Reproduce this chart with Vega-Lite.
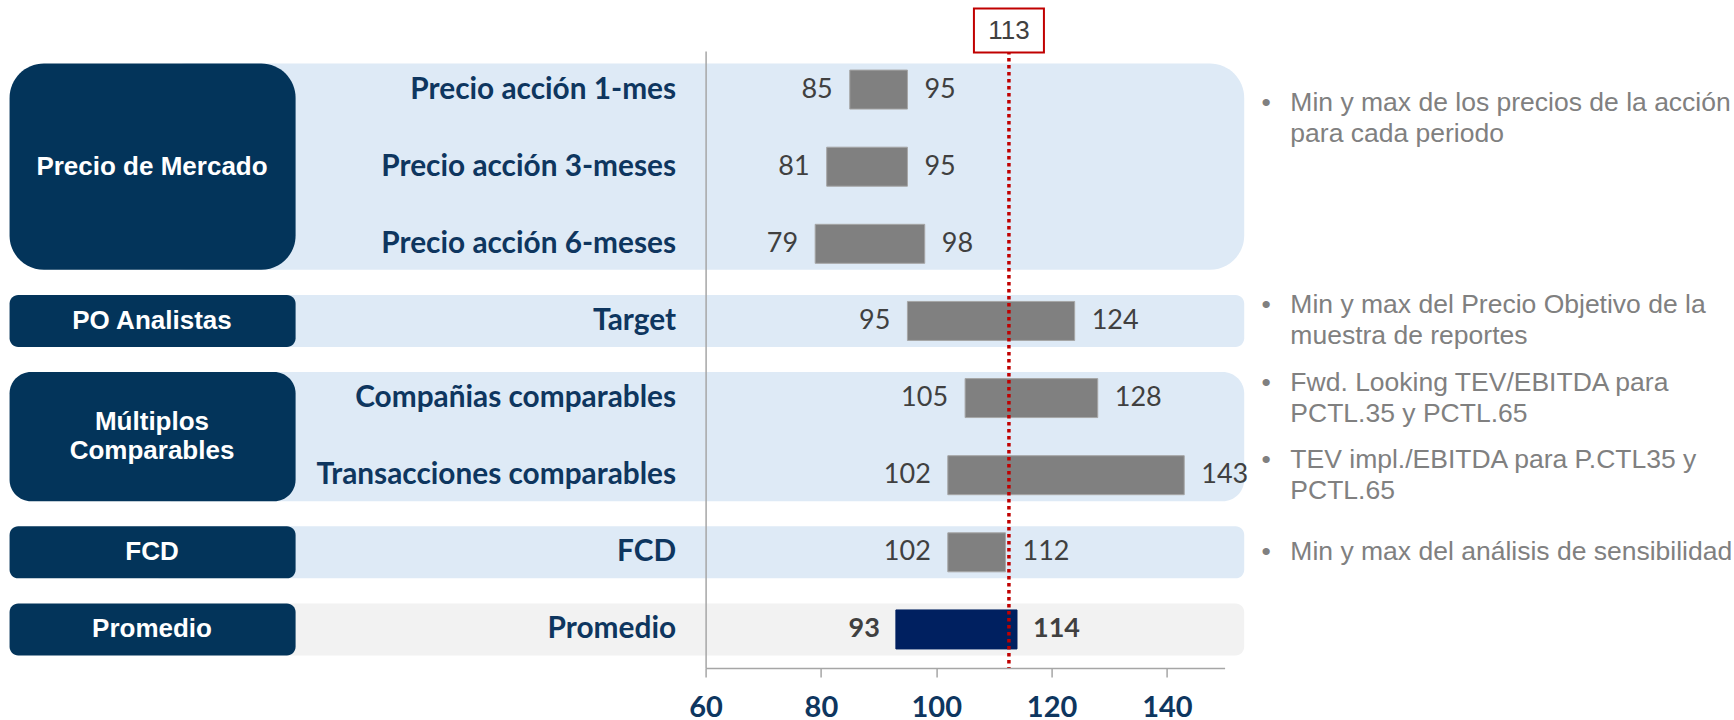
{
  "$schema": "https://vega.github.io/schema/vega-lite/v6.json",
  "width": 519,
  "height": 617,
  "autosize": {"type": "none"},
  "padding": {"left": 705.6, "top": 51, "right": 509.4, "bottom": 52},
  "background": "white",
  "config": {"view": {"stroke": null}},
  "datasets": {
    "rangos": [
      {"fila": "Precio acción 1-mes", "min": 85, "max": 95},
      {"fila": "Precio acción 3-meses", "min": 81, "max": 95},
      {"fila": "Precio acción 6-meses", "min": 79, "max": 98},
      {"fila": "Target", "min": 95, "max": 124},
      {"fila": "Compañias comparables", "min": 105, "max": 128},
      {"fila": "Transacciones comparables", "min": 102, "max": 143},
      {"fila": "FCD", "min": 102, "max": 112},
      {"fila": "Promedio", "min": 93, "max": 114}
    ],
    "grupos": [
      {"grupo": "Precio de Mercado", "primera": "Precio acción 1-mes", "ultima": "Precio acción 6-meses"},
      {"grupo": "PO Analistas", "primera": "Target", "ultima": "Target"},
      {"grupo": "Múltiplos\nComparables", "primera": "Compañias comparables", "ultima": "Transacciones comparables"},
      {"grupo": "FCD", "primera": "FCD", "ultima": "FCD"},
      {"grupo": "Promedio", "primera": "Promedio", "ultima": "Promedio"}
    ],
    "notas": [
      {"fila": "Precio acción 1-mes", "nota": "Min y max de los precios de la acción\npara cada periodo"},
      {"fila": "Target", "nota": "Min y max del Precio Objetivo de la\nmuestra de reportes"},
      {"fila": "Compañias comparables", "nota": "Fwd. Looking TEV/EBITDA para\nPCTL.35 y PCTL.65"},
      {"fila": "Transacciones comparables", "nota": "TEV impl./EBITDA para P.CTL35 y\nPCTL.65"},
      {"fila": "FCD", "nota": "Min y max del análisis de sensibilidad"}
    ],
    "precio": [{"valor": 112.6}]
  },
  "layer": [
    {
      "data": {"name": "grupos"},
      "mark": {"type": "rect", "yOffset": -26, "y2Offset": 26, "cornerRadius": {"expr": "(scale('y', datum.ultima) - scale('y', datum.primera) + 52) / 6"}},
      "encoding": {
        "y": {
          "field": "primera", "type": "nominal", "bandPosition": 0.5,
          "scale": {"domain": ["Precio acción 1-mes", "Precio acción 3-meses", "Precio acción 6-meses", "Target", "Compañias comparables", "Transacciones comparables", "FCD", "Promedio"], "paddingInner": 0, "paddingOuter": 0},
          "axis": {"title": null, "ticks": false, "domain": true, "domainColor": "#a6a6a6", "domainWidth": 1.5, "labelFont": "Lato", "labelFontWeight": "bold", "labelFontSize": 29.8, "labelColor": "#0e365f", "labelPadding": 30, "labelLimit": 600, "zindex": 1}
        },
        "y2": {"field": "ultima"},
        "x": {
          "datum": -36, "type": "quantitative",
          "scale": {"domain": [60, 150], "nice": false, "zero": false},
          "axis": {"title": null, "values": [60, 80, 100, 120, 140], "grid": false, "labelFlush": false, "labelOverlap": false, "domainColor": "#a6a6a6", "domainWidth": 1.5, "tickColor": "#a6a6a6", "tickWidth": 1.5, "tickSize": 9, "labelFont": "Lato", "labelFontWeight": "bold", "labelFontSize": 29, "labelColor": "#0e365f", "labelPadding": 16, "zindex": 1}
        },
        "x2": {"datum": 153.4},
        "color": {"condition": {"test": "datum.grupo === 'Promedio'", "value": "#f2f2f2"}, "value": "#deeaf6"}
      }
    },
    {
      "data": {"name": "grupos"},
      "mark": {"type": "rect", "color": "#03345a", "yOffset": -26, "y2Offset": 26, "cornerRadius": {"expr": "(scale('y', datum.ultima) - scale('y', datum.primera) + 52) / 6"}},
      "encoding": {
        "y": {"field": "primera", "type": "nominal", "bandPosition": 0.5},
        "y2": {"field": "ultima"},
        "x": {"datum": -60.7, "type": "quantitative"},
        "x2": {"datum": -11.1}
      }
    },
    {
      "data": {"name": "grupos"},
      "mark": {"type": "text", "font": "Liberation Sans", "fontWeight": "bold", "fontSize": 26, "color": "white", "align": "center", "baseline": "middle", "lineBreak": "\n", "lineHeight": 29, "yOffset": {"expr": "(scale('y', datum.ultima) - scale('y', datum.primera)) / 2 - (indexof(datum.grupo, '\\n') >= 0 ? 14.5 : 0)"}},
      "encoding": {
        "y": {"field": "primera", "type": "nominal"},
        "x": {"datum": -36, "type": "quantitative"},
        "text": {"field": "grupo", "type": "nominal"}
      }
    },
    {
      "data": {"name": "rangos"},
      "mark": {"type": "bar", "size": 39, "strokeWidth": 1},
      "encoding": {
        "y": {"field": "fila", "type": "nominal"},
        "x": {"field": "min", "type": "quantitative"},
        "x2": {"field": "max"},
        "color": {"condition": {"test": "datum.fila === 'Promedio'", "value": "#002060"}, "value": "#808080"},
        "stroke": {"condition": {"test": "datum.fila === 'Promedio'", "value": "#002060"}, "value": "#a6a6a6"}
      }
    },
    {
      "data": {"name": "rangos"},
      "transform": [{"filter": "datum.fila !== 'Promedio'"}],
      "mark": {"type": "text", "font": "Lato", "fontSize": 27, "color": "#404040", "align": "right", "baseline": "middle", "dx": -17},
      "encoding": {
        "y": {"field": "fila", "type": "nominal"},
        "x": {"field": "min", "type": "quantitative"},
        "text": {"field": "min", "type": "quantitative"}
      }
    },
    {
      "data": {"name": "rangos"},
      "transform": [{"filter": "datum.fila !== 'Promedio'"}],
      "mark": {"type": "text", "font": "Lato", "fontSize": 27, "color": "#404040", "align": "left", "baseline": "middle", "dx": 17},
      "encoding": {
        "y": {"field": "fila", "type": "nominal"},
        "x": {"field": "max", "type": "quantitative"},
        "text": {"field": "max", "type": "quantitative"}
      }
    },
    {
      "data": {"name": "rangos"},
      "transform": [{"filter": "datum.fila === 'Promedio'"}],
      "mark": {"type": "text", "font": "Lato", "fontWeight": "bold", "fontSize": 27, "color": "#404040", "align": "right", "baseline": "middle", "dx": -16},
      "encoding": {
        "y": {"field": "fila", "type": "nominal"},
        "x": {"field": "min", "type": "quantitative"},
        "text": {"field": "min", "type": "quantitative"}
      }
    },
    {
      "data": {"name": "rangos"},
      "transform": [{"filter": "datum.fila === 'Promedio'"}],
      "mark": {"type": "text", "font": "Lato", "fontWeight": "bold", "fontSize": 27, "color": "#404040", "align": "left", "baseline": "middle", "dx": 16},
      "encoding": {
        "y": {"field": "fila", "type": "nominal"},
        "x": {"field": "max", "type": "quantitative"},
        "text": {"field": "max", "type": "quantitative"}
      }
    },
    {
      "data": {"name": "precio"},
      "mark": {"type": "rule", "color": "#c00000", "strokeWidth": 3.5, "strokeDash": [3.5, 3.5]},
      "encoding": {
        "x": {"field": "valor", "type": "quantitative"}
      }
    },
    {
      "data": {"name": "precio"},
      "mark": {"type": "point", "shape": "M-1,-0.63L1,-0.63L1,0.63L-1,0.63Z", "size": 4900, "filled": true, "fill": "white", "stroke": "#c00000", "strokeWidth": 2, "opacity": 1, "yOffset": -59},
      "encoding": {
        "x": {"field": "valor", "type": "quantitative"},
        "y": {"datum": "Precio acción 1-mes", "type": "nominal"}
      }
    },
    {
      "data": {"name": "precio"},
      "mark": {"type": "text", "font": "Liberation Sans", "fontSize": 26, "color": "#404040", "align": "center", "baseline": "middle", "yOffset": -59},
      "encoding": {
        "x": {"field": "valor", "type": "quantitative"},
        "y": {"datum": "Precio acción 1-mes", "type": "nominal"},
        "text": {"field": "valor", "type": "quantitative", "format": ".0f"}
      }
    },
    {
      "data": {"name": "notas"},
      "transform": [{"filter": "datum.fila === 'Precio acción 1-mes'"}],
      "mark": {"type": "text", "font": "Liberation Sans", "fontSize": 26.5, "color": "#808080", "align": "left", "baseline": "top", "lineBreak": "\n", "lineHeight": 31},
      "encoding": {
        "y": {"field": "fila", "type": "nominal"},
        "x": {"datum": 161.4, "type": "quantitative"},
        "text": {"field": "nota", "type": "nominal"}
      }
    },
    {
      "data": {"name": "notas"},
      "transform": [{"filter": "datum.fila === 'Precio acción 1-mes'"}],
      "mark": {"type": "text", "font": "Liberation Sans", "fontSize": 26.5, "color": "#808080", "align": "center", "baseline": "top"},
      "encoding": {
        "y": {"field": "fila", "type": "nominal"},
        "x": {"datum": 157.2, "type": "quantitative"},
        "text": {"value": "•"}
      }
    },
    {
      "data": {"name": "notas"},
      "transform": [{"filter": "datum.fila !== 'Precio acción 1-mes' && indexof(datum.nota, '\\n') >= 0"}],
      "mark": {"type": "text", "font": "Liberation Sans", "fontSize": 26.5, "color": "#808080", "align": "left", "baseline": "middle", "lineBreak": "\n", "lineHeight": 31, "yOffset": -15.5},
      "encoding": {
        "y": {"field": "fila", "type": "nominal"},
        "x": {"datum": 161.4, "type": "quantitative"},
        "text": {"field": "nota", "type": "nominal"}
      }
    },
    {
      "data": {"name": "notas"},
      "transform": [{"filter": "datum.fila !== 'Precio acción 1-mes' && indexof(datum.nota, '\\n') >= 0"}],
      "mark": {"type": "text", "font": "Liberation Sans", "fontSize": 26.5, "color": "#808080", "align": "center", "baseline": "middle", "yOffset": -15.5},
      "encoding": {
        "y": {"field": "fila", "type": "nominal"},
        "x": {"datum": 157.2, "type": "quantitative"},
        "text": {"value": "•"}
      }
    },
    {
      "data": {"name": "notas"},
      "transform": [{"filter": "indexof(datum.nota, '\\n') < 0"}],
      "mark": {"type": "text", "font": "Liberation Sans", "fontSize": 26.5, "color": "#808080", "align": "left", "baseline": "middle"},
      "encoding": {
        "y": {"field": "fila", "type": "nominal"},
        "x": {"datum": 161.4, "type": "quantitative"},
        "text": {"field": "nota", "type": "nominal"}
      }
    },
    {
      "data": {"name": "notas"},
      "transform": [{"filter": "indexof(datum.nota, '\\n') < 0"}],
      "mark": {"type": "text", "font": "Liberation Sans", "fontSize": 26.5, "color": "#808080", "align": "center", "baseline": "middle"},
      "encoding": {
        "y": {"field": "fila", "type": "nominal"},
        "x": {"datum": 157.2, "type": "quantitative"},
        "text": {"value": "•"}
      }
    }
  ]
}
